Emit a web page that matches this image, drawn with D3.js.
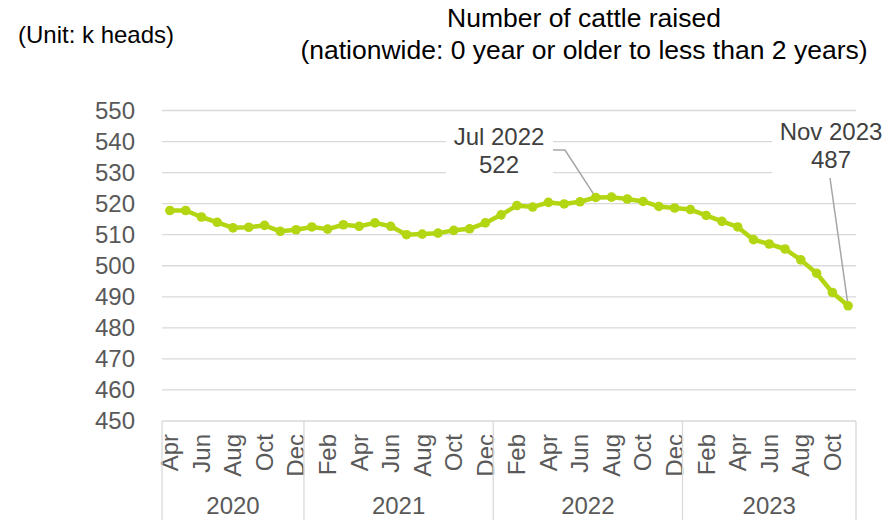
<!DOCTYPE html>
<html><head><meta charset="utf-8">
<script src="https://cdn.jsdelivr.net/npm/d3@7"></script>
<style>
html,body{margin:0;padding:0;background:#fff;}
svg{display:block;font-family:"Liberation Sans",Arial,sans-serif;}
</style></head>
<body><svg id="c" width="891" height="520"></svg>
<script>
const monthLabels = ["Apr","May","Jun","Jul","Aug","Sep","Oct","Nov","Dec",
  "Jan","Feb","Mar","Apr","May","Jun","Jul","Aug","Sep","Oct","Nov","Dec",
  "Jan","Feb","Mar","Apr","May","Jun","Jul","Aug","Sep","Oct","Nov","Dec",
  "Jan","Feb","Mar","Apr","May","Jun","Jul","Aug","Sep","Oct","Nov"];
const years = ["2020","2021","2022","2023"];
const yearCounts = [9,12,12,11];
const values = [517.8,517.8,515.7,514.0,512.2,512.4,513.0,511.1,511.6,
  512.5,511.8,513.2,512.7,513.8,512.7,510.0,510.2,510.5,511.4,511.9,513.8,
  516.4,519.4,518.9,520.4,519.9,520.6,522.0,522.1,521.5,520.7,519.1,518.6,
  518.1,516.2,514.3,512.5,508.4,507.0,505.4,501.9,497.6,491.4,487.1];
const yTicks = [450,460,470,480,490,500,510,520,530,540,550];
const annotations = [
  {index:27, lines:["Jul 2022","522"]},
  {index:43, lines:["Nov 2023","487"]}
];

(function(){
const svg = d3.select("#c");
const pLeft = 162, pRight = 856, pTop = 110.5, pBottom = 421;
const idx = values.map((d,i)=>i);
const x = d3.scaleBand().domain(idx).range([pLeft,pRight]);
const y = d3.scaleLinear().domain([450,550]).range([pBottom,pTop]);
const cx = i => x(i) + x.bandwidth()/2;
const grey = "#d9d9d9";

// titles
svg.append("text").attr("x",18).attr("y",43).attr("font-size",24).attr("fill","#000").text("(Unit: k heads)");
svg.append("text").attr("x",584).attr("y",27).attr("text-anchor","middle").attr("font-size",26.5).attr("fill","#000").text("Number of cattle raised");
svg.append("text").attr("x",584).attr("y",59).attr("text-anchor","middle").attr("font-size",26.5).attr("fill","#000").text("(nationwide: 0 year or older to less than 2 years)");

// gridlines
svg.append("g").selectAll("line").data(yTicks).join("line")
  .attr("x1",pLeft).attr("x2",pRight).attr("y1",d=>y(d)).attr("y2",d=>y(d))
  .attr("stroke",grey).attr("stroke-width",1.3);

// y axis labels
const yAxis = d3.axisLeft(y).tickValues(yTicks).tickSize(0).tickPadding(0).tickFormat(d3.format("d"));
const ya = svg.append("g").attr("transform",`translate(${pLeft-27},0)`).call(yAxis);
ya.select(".domain").remove();
ya.selectAll("text").attr("font-size",24).attr("fill","#595959").attr("font-family","Liberation Sans, Arial, sans-serif");

// x axis month labels
const xAxis = d3.axisBottom(x).tickSize(0).tickFormat(i => i%2===0 ? monthLabels[i] : "");
const xa = svg.append("g").attr("transform",`translate(0,${pBottom})`).call(xAxis);
xa.select(".domain").remove();
xa.selectAll("text").attr("font-size",24).attr("fill","#595959").attr("font-family","Liberation Sans, Arial, sans-serif")
  .attr("text-anchor","end").attr("transform","rotate(-90)").attr("x",-13).attr("y",0).attr("dy","0.35em");

// year group separators & labels
let acc = 0;
const bounds = [0];
yearCounts.forEach(c=>{ acc += c; bounds.push(acc); });
const bx = b => b < values.length ? x(b) : pRight;
svg.append("g").selectAll("line").data(bounds).join("line")
  .attr("x1",d=>bx(d)).attr("x2",d=>bx(d)).attr("y1",pBottom).attr("y2",520)
  .attr("stroke",grey).attr("stroke-width",1.3);
svg.append("g").selectAll("text").data(years).join("text")
  .attr("x",(d,i)=>(bx(bounds[i])+bx(bounds[i+1]))/2).attr("y",514)
  .attr("text-anchor","middle").attr("font-size",24).attr("fill","#595959").text(d=>d);

// annotation boxes (white background behind labels)
const annLayout = [
  {bx:446, bw:107, by:121, bh:60, tx:499, ty1:145, ty2:173, leader:[[553,150],[565,150]]},
  {bx:772, bw:110, by:116, bh:60, tx:831, ty1:140, ty2:168, leader:[[830,178]]}
];
annotations.forEach((a,k)=>{
  const L = annLayout[k];
  svg.append("rect").attr("x",L.bx).attr("y",L.by).attr("width",L.bw).attr("height",L.bh).attr("fill","#fff");
  const pts = L.leader.concat([[cx(a.index), y(values[a.index])]]);
  svg.append("path").attr("d",d3.line()(pts)).attr("fill","none").attr("stroke","#a6a6a6").attr("stroke-width",1.5);
  svg.append("text").attr("x",L.tx).attr("y",L.ty1).attr("text-anchor","middle").attr("font-size",24).attr("fill","#404040").text(a.lines[0]);
  svg.append("text").attr("x",L.tx).attr("y",L.ty2).attr("text-anchor","middle").attr("font-size",24).attr("fill","#404040").text(a.lines[1]);
});

// line + markers
const lineColor = "#b3d612";
svg.append("path").datum(values)
  .attr("d", d3.line().x((d,i)=>cx(i)).y(d=>y(d)))
  .attr("fill","none").attr("stroke",lineColor).attr("stroke-width",4.5).attr("stroke-linejoin","round");
svg.append("g").selectAll("circle").data(values).join("circle")
  .attr("cx",(d,i)=>cx(i)).attr("cy",d=>y(d)).attr("r",4.8).attr("fill",lineColor);
})();
</script></body></html>
